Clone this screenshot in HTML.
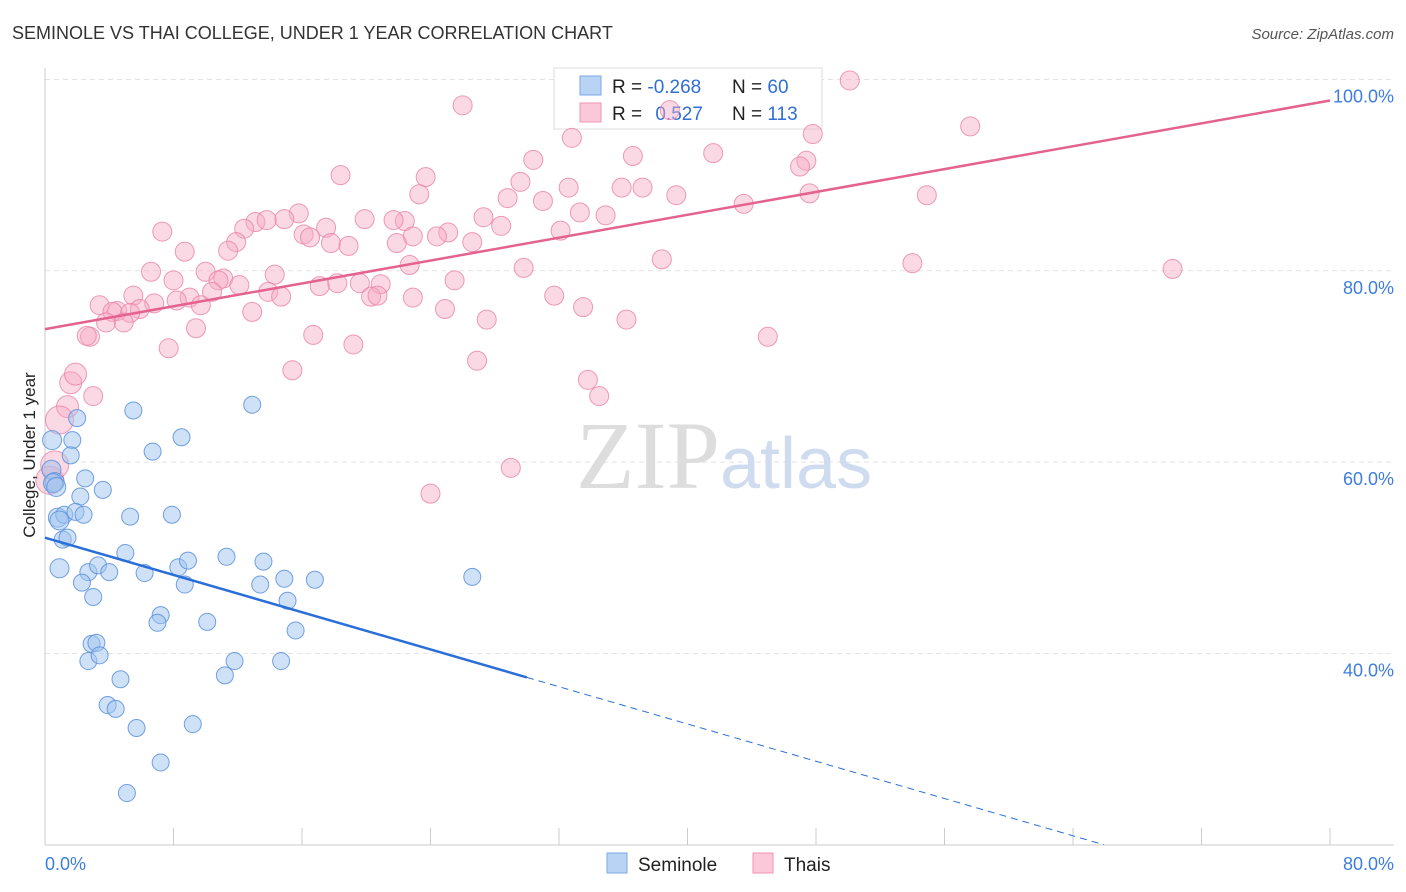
<!DOCTYPE html>
<html><head><meta charset="utf-8"><style>
body{margin:0;background:#fff;font-family:"Liberation Sans",sans-serif;}
svg{display:block}
</style></head><body>
<svg id="chart" width="1406" height="892" xmlns="http://www.w3.org/2000/svg">
<text x="12" y="39" font-size="18" fill="#333">SEMINOLE VS THAI COLLEGE, UNDER 1 YEAR CORRELATION CHART</text>
<text x="1394" y="39" font-size="15" fill="#555" font-style="italic" text-anchor="end">Source: ZipAtlas.com</text>
<g id="grid"></g>
<text x="720" y="488" font-size="96" fill="#ddd" font-family="Liberation Serif,serif" text-anchor="end">ZIP</text>
<text x="720" y="488" font-size="72" fill="#cfdcf0" text-anchor="start">atlas</text>
<g>
<rect x="554" y="68" width="268" height="61" fill="#fff" stroke="#ddd"/>
<rect x="580" y="76" width="21" height="19" fill="#b9d3f5" stroke="#7aa8e6"/>
<rect x="580" y="103" width="21" height="19" fill="#fac8d8" stroke="#ef94b4"/>
<text x="612" y="93" font-size="19" fill="#222">R = <tspan fill="#2f6fd6">-0.268</tspan></text>
<text x="732" y="93" font-size="19" fill="#222">N = <tspan fill="#2f6fd6">60</tspan></text>
<text x="612" y="120" font-size="19" fill="#222">R = <tspan fill="#2f6fd6" dx="8">0.527</tspan></text>
<text x="732" y="120" font-size="19" fill="#222">N = <tspan fill="#2f6fd6">113</tspan></text>
</g>
<g id="marks"></g>
<text x="35" y="455" font-size="17" fill="#222" text-anchor="middle" transform="rotate(-90 35 455)">College, Under 1 year</text>
<g>
<rect x="607" y="853" width="20" height="20" fill="#b9d3f5" stroke="#7aa8e6"/>
<text x="638" y="871" font-size="19" fill="#222">Seminole</text>
<rect x="753" y="853" width="20" height="20" fill="#fac8d8" stroke="#ef94b4"/>
<text x="784" y="871" font-size="19" fill="#222">Thais</text>
</g>
</svg>
<script>
const yTicks=[40,60,80,100];
const yTickLabels=["40.0%","60.0%","80.0%","100.0%"];
const xTickVals=[0,8,16,24,32,40,48,56,64,72,80];
const xEndLabels=["0.0%","80.0%"];
const semX=[0.44,1.7,2.0,1.6,0.4,0.6,2.5,2.2,3.6,0.8,1.2,1.9,2.4,1.1,1.4,5.5,6.7,8.5,12.9,0.9,2.7,3.3,4.0,2.3,3.0,5.0,5.3,7.9,6.2,8.3,8.9,8.7,11.3,13.6,13.4,14.9,15.1,16.8,15.6,26.6,7.2,7.0,10.1,11.8,11.2,14.7,2.9,3.2,2.7,3.4,4.7,3.9,4.4,5.7,9.2,7.2,5.1,0.5,0.7,0.9];
const semY=[62.3,62.3,64.6,60.7,59.2,57.9,58.3,56.4,57.1,54.2,54.5,54.8,54.5,51.9,52.1,65.4,61.1,62.6,66.0,48.9,48.5,49.2,48.5,47.4,45.9,50.5,54.3,54.5,48.4,49.0,49.7,47.2,50.1,49.6,47.2,47.8,45.5,47.7,42.4,48.0,44.0,43.2,43.3,39.2,37.7,39.2,41.0,41.1,39.2,39.8,37.3,34.6,34.2,32.2,32.6,28.6,25.4,57.8,57.4,53.9];
const thaiX=[50.1,26.0,38.9,57.6,47.8,32.8,41.6,36.6,30.4,47.4,47.0,18.4,23.7,29.6,32.6,35.9,37.2,23.3,28.8,39.3,47.6,54.9,31.0,43.5,15.8,33.3,34.9,27.3,19.9,22.4,21.7,14.9,13.1,13.8,12.4,17.5,28.4,32.1,25.1,16.1,16.5,22.9,7.3,24.4,17.8,18.9,11.9,21.9,26.6,11.4,8.7,22.7,29.8,38.4,54.0,70.2,6.6,8.0,10.0,14.3,11.1,10.8,12.1,25.5,19.6,20.9,17.1,18.2,10.4,13.9,14.7,20.3,20.7,22.9,31.7,5.5,9.0,8.2,9.7,6.8,3.4,4.5,4.2,5.9,5.3,12.9,24.9,33.5,3.8,4.9,27.5,36.2,9.4,16.7,2.8,2.6,45.0,7.7,19.2,26.9,15.4,33.8,1.6,1.9,3.0,34.5,1.4,0.9,29.0,24.0,0.3,0.6];
const thaiY=[99.9,97.3,96.8,95.1,94.3,93.9,92.3,92.0,91.6,91.5,90.9,90.0,89.8,89.3,88.7,88.7,88.7,88.0,87.6,87.9,88.1,87.9,87.3,87.0,86.0,86.1,85.8,85.6,85.4,85.2,85.3,85.4,85.1,85.3,84.4,84.5,84.7,84.2,84.0,83.8,83.5,83.6,84.1,83.6,82.9,82.6,83.0,82.9,83.0,82.1,82.0,80.6,80.3,81.2,80.8,80.2,79.9,79.0,79.9,79.6,79.2,79.0,78.5,79.0,78.7,78.6,78.4,78.7,77.8,77.8,77.3,77.3,77.4,77.2,77.4,77.4,77.2,76.9,76.4,76.6,76.4,75.8,75.7,76.0,75.6,75.7,76.0,76.2,74.6,74.6,74.9,74.9,74.0,73.3,73.1,73.2,73.1,71.9,72.3,70.6,69.6,68.6,68.3,69.2,66.9,66.9,65.8,64.4,59.4,56.7,58.1,59.7];
const semTrend=[52.1,-0.487];
const thaiTrend=[73.9,0.2988];
const NS="http://www.w3.org/2000/svg";
const X=v=>45+v*1285/80;
const Y=v=>1036-v*191.3/20;
function mk(tag,attrs,parent){const e=document.createElementNS(NS,tag);for(const k in attrs)e.setAttribute(k,attrs[k]);parent.appendChild(e);return e;}
const grid=document.getElementById('grid'),marks=document.getElementById('marks');
yTicks.forEach((t,i)=>{
 const l=mk('line',{x1:45,x2:1394,y1:Y(t),y2:Y(t),stroke:'#e2e2e2','stroke-dasharray':'5,4'},grid);
 
 
 const tx=mk('text',{x:1394,y:Y(t)+23,'font-size':18,fill:'#3d7de0','text-anchor':'end'},grid);
 tx.textContent=yTickLabels[i];
 
 
});
const ax=mk('line',{x1:45,x2:45,y1:68,y2:845,stroke:'#ccc'},grid);


const bx=mk('line',{x1:45,x2:1394,y1:845,y2:845,stroke:'#ccc'},grid);


xTickVals.forEach(t=>{
 const l=mk('line',{x1:X(t),x2:X(t),y1:828,y2:845,stroke:'#ccc'},grid);
 
 
});
[[0,'start',45],[80,'end',1394]].forEach((d,i)=>{
 const tx=mk('text',{x:d[2],y:870,'font-size':18,fill:'#3d7de0','text-anchor':d[1]},grid);
 tx.textContent=xEndLabels[i];
 
 
});
thaiX.forEach((x,i)=>{
 const r=x<1?14:(x<2?11:9.5);
 const c=mk('circle',{cx:X(x),cy:Y(thaiY[i]),r:r,fill:'rgba(246,170,196,0.45)',stroke:'rgba(234,130,168,0.8)','stroke-width':1},marks);
 
 
});
semX.forEach((x,i)=>{
 const c=mk('circle',{cx:X(x),cy:Y(semY[i]),r:x<1?9.5:8.5,fill:'rgba(160,195,240,0.5)',stroke:'rgba(90,145,220,0.85)','stroke-width':1},marks);
 
 
});
const xEndSolid=30, xEndDash=(20-semTrend[0])/semTrend[1];
const s1=mk('line',{x1:X(0),y1:Y(semTrend[0]),x2:X(xEndSolid),y2:Y(semTrend[0]+semTrend[1]*xEndSolid),stroke:'#2a6fd8','stroke-width':2.5},marks);


const s2=mk('line',{x1:X(xEndSolid),y1:Y(semTrend[0]+semTrend[1]*xEndSolid),x2:X(xEndDash),y2:Y(20),stroke:'#2a6fd8','stroke-width':1,'stroke-dasharray':'7,5'},marks);


const t1=mk('line',{x1:X(0),y1:Y(thaiTrend[0]),x2:X(80),y2:Y(thaiTrend[0]+thaiTrend[1]*80),stroke:'#e4628f','stroke-width':2.5},marks);


</script>
</body></html>
